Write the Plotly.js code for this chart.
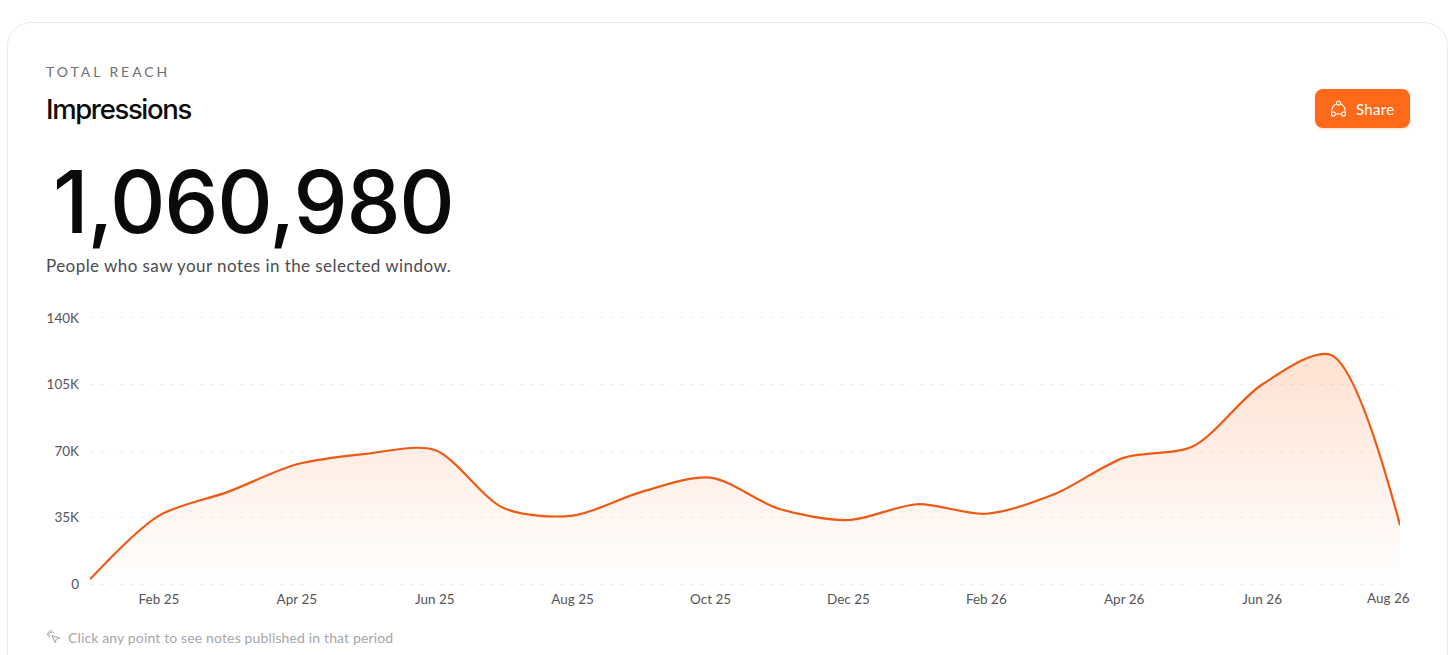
<!DOCTYPE html>
<html>
<head>
<meta charset="utf-8">
<script src="https://cdn.plot.ly/plotly-3.0.1.min.js"></script>
<style>
html,body{margin:0;padding:0;background:#fff;width:1456px;height:655px;overflow:hidden}
#card{position:absolute;left:7px;top:22px;width:1441px;height:700px;border:1px solid #ebebeb;border-radius:24px;box-sizing:border-box;background:#fff}
#chart{position:absolute;left:0;top:0;width:1456px;height:655px}
.t{position:absolute;white-space:nowrap;line-height:1;z-index:2}
#eyebrow{left:46px;top:63px;font:14px Lato,sans-serif;letter-spacing:2.95px;color:#6f6f73}
#title{left:46px;top:92px;font:500 27.5px Inter,sans-serif;letter-spacing:-1.35px;color:#0a0a0a}
#big{left:53px;top:150px;font:500 86px Inter,sans-serif;letter-spacing:-1.2px;color:#0a0a0a}
#sub{left:46px;top:255px;font:17px Lato,sans-serif;letter-spacing:.44px;color:#4b4b50}
#hint{left:68px;top:629px;font:14px Lato,sans-serif;letter-spacing:.14px;color:#a6a6aa}
#btn{position:absolute;z-index:2;left:1315px;top:89px;width:95px;height:39px;border-radius:8px;background:#ff6a1a;box-shadow:0 1px 3px rgba(255,106,26,.25)}
#btnt{left:41px;top:11px;font:15px Lato,sans-serif;color:#fff;letter-spacing:.3px}
svg.ic{position:absolute;z-index:2}
</style>
</head>
<body>
<div id="card"></div>
<div id="chart"></div>
<div class="t" id="eyebrow">TOTAL REACH</div>
<div class="t" id="title">Impressions</div>
<div class="t" id="big">1,060,980</div>
<div class="t" id="sub">People who saw your notes in the selected window.</div>
<div id="btn"><div class="t" id="btnt">Share</div>
<svg class="ic" style="left:15px;top:11px" width="17" height="17" viewBox="0 0 17 17" fill="none" stroke="#fff" stroke-width="1.1"><circle cx="8.500" cy="3" r="2"/><circle cx="3.500" cy="14" r="2"/><circle cx="13.500" cy="14" r="2"/><path d="M5.500 14h6M6.700 3.800C3.600 5 1.500 8.300 1.900 12.500M10.300 3.800C13.400 5 15.500 8.300 15.100 12.500"/></svg></div>
<svg class="ic" style="left:46px;top:629px" width="15" height="16" viewBox="0 0 15 16" fill="none" stroke="#a6a6aa" stroke-width="1"><path d="M6 6.500l7.500 2.500-3.200 1.300-1.200 3.400z"/><path d="M3.400 8.500A3.300 3.300 0 1 1 8.500 4.200M1.500 6.500A5 5 0 0 1 6 1.200"/></svg>
<div class="t" id="hint">Click any point to see notes published in that period</div>
<script>
const months = ["Jan 25","Feb 25","Mar 25","Apr 25","May 25","Jun 25","Jul 25","Aug 25","Sep 25","Oct 25","Nov 25","Dec 25","Jan 26","Feb 26","Mar 26","Apr 26","May 26","Jun 26","Jul 26","Aug 26"];
const impressions = [2500,36000,48500,63000,68500,70500,40000,36000,48500,56000,39500,33700,42000,37000,47500,66500,72500,105000,120500,31000];
const xTicks = ["Feb 25","Apr 25","Jun 25","Aug 25","Oct 25","Dec 25","Feb 26","Apr 26","Jun 26"];
const yTicks = [0,35000,70000,105000,140000];
const yLabels = ["0","35K","70K","105K","140K"];
const lastLabel = "Aug 26";

const trace = {
  x: months, y: impressions, type: "scatter", mode: "lines",
  line: {color: "#ee5a14", width: 2.2, shape: "spline", smoothing: 0.85},
  fill: "tozeroy",
  fillgradient: {type: "vertical", start: 121000, stop: 0,
    colorscale: [[0, "rgba(255,106,26,0.2)"], [1, "rgba(255,106,26,0)"]]},
  hoverinfo: "x+y"
};
const layout = {
  width: 1456, height: 655,
  margin: {l: 90, r: 56, t: 316, b: 69, pad: 0},
  paper_bgcolor: "rgba(0,0,0,0)", plot_bgcolor: "rgba(0,0,0,0)",
  showlegend: false,
  font: {family: "Lato, sans-serif", size: 13.5, color: "#55555a"},
  xaxis: {type: "category", categoryorder: "array", categoryarray: months, range: [0, 19],
    tickmode: "array", tickvals: xTicks, ticktext: xTicks,
    showgrid: false, zeroline: false, showline: false, ticks: "", ticklabelstandoff: 3, fixedrange: true},
  yaxis: {range: [-1000, 141000], tickmode: "array", tickvals: yTicks, ticktext: yLabels,
    showgrid: true, gridcolor: "#f1f1f1", griddash: "4px,6px", gridwidth: 1,
    zeroline: false, showline: false, ticks: "", ticklabelstandoff: 10, fixedrange: true},
  annotations: [{x: 19, y: 0, xref: "x", yref: "y", text: lastLabel, showarrow: false,
    xshift: -12, yshift: -14, font: {family: "Lato, sans-serif", size: 13.5, color: "#55555a"}}]
};
Plotly.newPlot("chart", [trace], layout, {displayModeBar: false, responsive: false});
</script>
</body>
</html>
